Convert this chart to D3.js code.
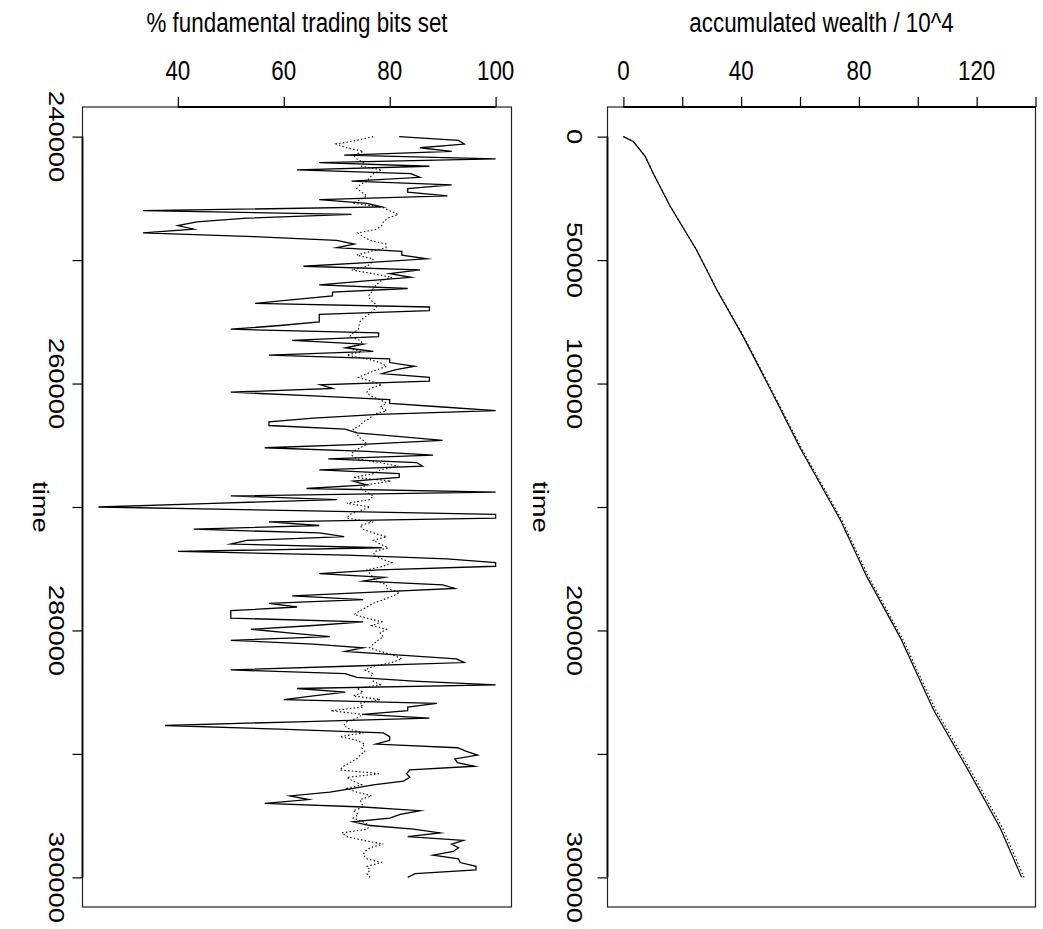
<!DOCTYPE html>
<html>
<head>
<meta charset="utf-8">
<script src="https://cdn.jsdelivr.net/npm/d3@7"></script>
<style>
  body { margin: 0; background: #fff; }
  text { font-family: "Liberation Sans", Arial, sans-serif; fill: #000; }
</style>
</head>
<body>
<svg id="chart" width="1043" height="929"></svg>
<script>
// ---------------------------------------------------------------- data
// left panel: % fundamental trading bits set, time 240000 .. 300000
const bitsTimeStart = 240000;
const bitsTimeEnd = 300000;
const bitsSolid = [
  81.8, 93.0, 94.1, 85.7, 91.7, 71.4, 100, 66.7, 87.5, 62.5,
  84.0, 85.7, 72.8, 91.7, 83.4, 83.4, 90.9, 66.7, 75.7, 78.6,
  33.4, 72.8, 53, 43.6, 40, 43, 33.4, 54.3, 70, 73.3,
  70, 82.3, 82.3, 87, 75.7, 63.7, 85.7, 80, 84, 75,
  66.7, 83.4, 69.2, 69.2, 61.8, 54.6, 87.5, 87.5, 66.7, 66.7,
  66.7, 59.3, 50, 77.9, 77.9, 61.6, 75, 71.6, 76.9, 57.2,
  80, 80, 84.7, 81, 78.6, 87.5, 87.5, 66.9, 69.2, 50,
  65.6, 80, 80, 90, 100, 78, 65.6, 57.2, 57.2, 71.6,
  73.8, 82, 90, 75.7, 56.4, 75.7, 88.2, 68.4, 85.1, 86.2,
  66.7, 81.8, 81.8, 73.1, 75.7, 64.3, 100, 50, 70, 46.7,
  25, 62.5, 100, 100, 57.2, 66.7, 43, 66.7, 71.4, 53,
  50, 78.5, 40, 71.9, 90.8, 100, 100, 78, 66.7, 79,
  75, 90, 92.3, 77, 61.6, 75, 57.2, 62.5, 50, 50,
  50, 75, 65.6, 53.8, 60.9, 68.7, 50, 65.6, 75, 71.6,
  82, 92.6, 94.1, 71.9, 50, 71.6, 73.8, 84.5, 100, 62.5,
  71.6, 65.6, 60, 88.9, 83.4, 83.4, 75, 87.5, 62.5, 37.6,
  59.3, 78.8, 80, 80, 77.4, 92.8, 94.5, 96.6, 92.3, 92.8,
  96, 83.8, 83.2, 83.8, 82.6, 76.9, 73.1, 68.7, 61.2, 64.7,
  56.4, 75, 85.7, 82, 80, 73.1, 76.3, 84.5, 89.5, 83.4,
  93.9, 91.7, 93, 92, 88.2, 93, 93.3, 96.3, 96.3, 84.8,
  83.4
];
const bitsDotted = [
  76.9, 73.8, 69.9, 71.9, 75, 73.1, 73.8, 75, 74.7, 78.5,
  76.9, 76.3, 75.7, 74.4, 73.8, 74.7, 75.7, 74.4, 73.1, 78.5,
  80, 81.6, 79.7, 78.8, 78.5, 77.5, 74, 75, 76.3, 79.3,
  79.3, 76.3, 73.8, 76.9, 76.6, 75.7, 72.8, 76.9, 80.4, 78.2,
  77.5, 76.9, 76.6, 76, 76.3, 77.2, 77.5, 76.9, 76, 75,
  74.4, 74.2, 74.1, 73.1, 72.4, 74.4, 75, 71.9, 74.7, 71.9,
  75.7, 78.2, 79.4, 77.5, 75.7, 74.1,
  76.3, 78.5, 76.3, 75.7, 76.3, 78.2, 79.4, 78.2, 79.4, 76.9,
  76.3, 75, 74.4, 73.1, 73.8, 74.1, 75, 75.7, 74.4, 73.1,
  72.8, 73.8, 78.2, 81.6, 78.2, 76.9, 73.1, 80.2, 75.7, 74.4,
  75.7, 76.9, 76.3, 71.9, 76.3, 74.4, 72.5, 71.9, 76.9, 74.4,
  75, 76.9, 79.4, 76.9, 78.2, 79.7, 77.2, 76.9, 78.5, 80.4,
  78.8, 75.7, 76.3, 76.9, 77.5, 79.4, 79.4, 81.9, 80.7, 78.8,
  76.9, 75.7, 74.4, 73.3, 75.7, 78.5, 76.6, 79.4, 78.2, 78.8,
  77.8, 76.9, 76.2,
  78.2, 80.7, 82.3, 80.4, 76.9, 75.3, 76.9, 76.3, 76.9, 78.2,
  73.8, 75, 73.1, 78.2, 74.4, 75, 68.9, 75, 73.8, 71.9,
  71.3, 72.5, 75, 70.6, 73.8, 75.3, 74.7, 75.3, 74.4, 73.8,
  72.5, 71.3, 70.6, 78.2, 71.9, 73.1, 74.7, 71.9, 73.8, 76.6,
  74.4, 74.7, 75, 73.1, 74.1, 73.1, 75, 76.3, 75.7, 71,
  71.9, 75, 78.8, 76.3, 75.3, 75, 75.7, 78.5, 75.7, 76.3,
  75.7, 76.3
];
const bitsTicks = [40, 60, 80, 100];
const bitsTimeTicks = [240000, 250000, 260000, 270000, 280000, 290000, 300000];
const bitsTimeLabels = [240000, 260000, 280000, 300000];

// right panel: accumulated wealth / 10^4, time 0 .. 300000
const wealthTime = [0, 2000, 8000, 15000, 28000, 46000, 62000, 81000, 102000,
                    126000, 155000, 178000, 203000, 232000, 258000, 280000, 300000];
const wealthSolid = [0, 3.4, 7.4, 10.2, 15.8, 24.9, 31.7, 40.7, 49.8,
                     60.0, 73.6, 82.6, 94.1, 105.3, 117.8, 128.0, 135.3];
const wealthDotted = [0, 3.3, 7.4, 10.2, 15.8, 24.9, 31.8, 40.9, 50.1,
                      60.4, 74.1, 83.2, 94.7, 106.0, 118.6, 128.8, 136.1];
const wealthTicks = [0, 20, 40, 60, 80, 100, 120, 140];
const wealthLabels = [0, 40, 80, 120];
const wealthTimeTicks = [0, 50000, 100000, 150000, 200000, 250000, 300000];
const wealthTimeLabels = [0, 50000, 100000, 200000, 300000];

// ---------------------------------------------------------------- layout
const svg = d3.select("#chart");
const plotTop = 107, plotBottom = 907;
const fontSize = 22.4;
const stretchY = 1.22;   // the picture is taller than the glyphs

const leftPanel = { x0: 82.5, x1: 511.5, labelX: 57, titleX: 40 };
const rightPanel = { x0: 607.5, x1: 1035.5, labelX: 575, titleX: 540 };

// scales (R style: 4% padding around the data range)
const bitsX = d3.scaleLinear().domain([22, 103]).range([leftPanel.x0, leftPanel.x1]);
const bitsY = d3.scaleLinear().domain([237600, 302400]).range([plotTop, plotBottom]);
const wealthX = d3.scaleLinear().domain([-5.4, 140]).range([rightPanel.x0, rightPanel.x1]);
const wealthY = d3.scaleLinear().domain([-12000, 312000]).range([plotTop, plotBottom]);

function label(x, y, rot, txt, dy) {
  svg.append("text")
     .attr("transform", `translate(${x},${y}) scale(1,${stretchY}) rotate(${rot})`)
     .attr("text-anchor", "middle")
     .attr("dy", dy)
     .style("font-size", fontSize + "px")
     .text(txt);
}

function drawPanel(p, xScale, yScale, xTicks, xLabels, yTicks, yLabels, xTitle) {
  // box
  svg.append("rect")
     .attr("x", p.x0).attr("y", plotTop)
     .attr("width", p.x1 - p.x0).attr("height", plotBottom - plotTop)
     .attr("fill", "none")
     .attr("stroke", "#222")
     .attr("stroke-width", 1.2);

  // top axis (value)
  const topAxis = svg.append("g")
                     .attr("transform", `translate(0,${plotTop})`)
                     .call(d3.axisTop(xScale)
                             .tickValues(xTicks)
                             .tickSize(10)
                             .tickFormat(""));
  topAxis.select(".domain").remove();
  topAxis.selectAll("line").attr("stroke", "#000").attr("stroke-width", 1.2);
  svg.append("line")
     .attr("x1", xScale(xTicks[0])).attr("x2", xScale(xTicks[xTicks.length - 1]))
     .attr("y1", plotTop).attr("y2", plotTop)
     .attr("stroke", "#000").attr("stroke-width", 1.8);
  xLabels.forEach(function(v) {
    label(xScale(v), 79.5, 0, v, 0);
  });
  label((p.x0 + p.x1) / 2, 32, 0, xTitle, 0);

  // left axis (time)
  const leftAxis = svg.append("g")
                      .attr("transform", `translate(${p.x0},0)`)
                      .call(d3.axisLeft(yScale)
                              .tickValues(yTicks)
                              .tickSize(10)
                              .tickFormat(""));
  leftAxis.select(".domain").remove();
  leftAxis.selectAll("line").attr("stroke", "#000").attr("stroke-width", 1.2);
  svg.append("line")
     .attr("x1", p.x0).attr("x2", p.x0)
     .attr("y1", yScale(yTicks[0])).attr("y2", yScale(yTicks[yTicks.length - 1]))
     .attr("stroke", "#000").attr("stroke-width", 1.8);
  yLabels.forEach(function(v) {
    label(p.labelX, yScale(v), 90, v, "0.35em");
  });
  label(p.titleX, (plotTop + plotBottom) / 2, 90, "time", "0.3em");
}

drawPanel(leftPanel, bitsX, bitsY, bitsTicks, bitsTicks, bitsTimeTicks, bitsTimeLabels,
          "% fundamental trading bits set");
drawPanel(rightPanel, wealthX, wealthY, wealthTicks, wealthLabels, wealthTimeTicks, wealthTimeLabels,
          "accumulated wealth / 10^4");

// ---------------------------------------------------------------- lines
function bitsLine(values) {
  const step = (bitsTimeEnd - bitsTimeStart) / (values.length - 1);
  return d3.line()
           .x(function(d) { return bitsX(d); })
           .y(function(d, i) { return bitsY(bitsTimeStart + i * step); })
           (values);
}

const wealthLine = d3.line()
                     .x(function(d) { return wealthX(d[1]); })
                     .y(function(d) { return wealthY(d[0]); });

svg.append("path")
   .attr("d", bitsLine(bitsDotted))
   .attr("fill", "none")
   .attr("stroke", "#000")
   .attr("stroke-width", 1.1)
   .attr("stroke-dasharray", "1.5,2.2");

svg.append("path")
   .attr("d", bitsLine(bitsSolid))
   .attr("fill", "none")
   .attr("stroke", "#000")
   .attr("stroke-width", 1.3)
   .attr("stroke-linejoin", "miter")
   .attr("stroke-miterlimit", 10);

svg.append("path")
   .attr("d", wealthLine(d3.zip(wealthTime, wealthDotted)))
   .attr("fill", "none")
   .attr("stroke", "#000")
   .attr("stroke-width", 1.1)
   .attr("stroke-dasharray", "1.5,2.2");

svg.append("path")
   .attr("d", wealthLine(d3.zip(wealthTime, wealthSolid)))
   .attr("fill", "none")
   .attr("stroke", "#000")
   .attr("stroke-width", 1.2);
</script>
</body>
</html>
